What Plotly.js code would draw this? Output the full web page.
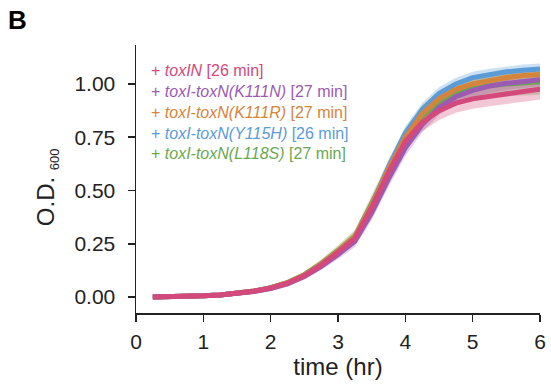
<!DOCTYPE html>
<html><head><meta charset="utf-8">
<script src="https://cdn.plot.ly/plotly-3.0.1.min.js"></script>
<style>body{margin:0;background:#fff}#c{width:551px;height:389px}</style>
</head><body><div id="c"></div>
<script>
const time = [0.25,0.5,0.75,1.0,1.25,1.5,1.75,2.0,2.25,2.5,2.75,3.0,3.25,3.5,3.75,4.0,4.25,4.5,4.75,5.0,5.25,5.5,5.75,6.0];
const names = ['+ <i>toxIN</i> [26 min]','+ <i>toxI-toxN(K111N)</i> [27 min]','+ <i>toxI-toxN(K111R)</i> [27 min]','+ <i>toxI-toxN(Y115H)</i> [26 min]','+ <i>toxI-toxN(L118S)</i> [27 min]'];
const colors = ['#d3497c','#9b5bb3','#d5843c','#5b9bd6','#6aa84f'];
const odToxIN = [0.000,0.001,0.003,0.006,0.010,0.017,0.027,0.042,0.065,0.100,0.150,0.210,0.275,0.420,0.585,0.730,0.820,0.875,0.910,0.930,0.943,0.955,0.965,0.975];
const odK111N = [0.000,0.001,0.003,0.006,0.010,0.016,0.026,0.040,0.062,0.096,0.144,0.200,0.262,0.395,0.555,0.700,0.810,0.890,0.940,0.970,0.990,1.003,1.013,1.020];
const odK111R = [0.000,0.001,0.003,0.006,0.010,0.017,0.028,0.043,0.067,0.103,0.155,0.215,0.282,0.432,0.600,0.750,0.860,0.930,0.975,1.000,1.018,1.030,1.040,1.045];
const odY115H = [0.000,0.001,0.003,0.006,0.010,0.017,0.027,0.043,0.066,0.102,0.152,0.212,0.278,0.430,0.610,0.770,0.880,0.955,1.000,1.030,1.045,1.057,1.065,1.070];
const odL118S = [0.000,0.001,0.003,0.006,0.010,0.017,0.028,0.044,0.068,0.105,0.157,0.218,0.285,0.440,0.600,0.740,0.850,0.915,0.955,0.978,0.992,1.000,1.006,1.010];
const sdToxIN = [0.004,0.004,0.004,0.004,0.005,0.005,0.006,0.008,0.010,0.013,0.017,0.022,0.027,0.033,0.037,0.040,0.042,0.044,0.045,0.046,0.047,0.047,0.048,0.048];
const sdK111N = [0.004,0.004,0.004,0.004,0.005,0.005,0.006,0.008,0.010,0.013,0.017,0.022,0.027,0.033,0.037,0.038,0.037,0.036,0.035,0.034,0.033,0.032,0.032,0.032];
const sdK111R = [0.004,0.004,0.004,0.004,0.005,0.005,0.006,0.008,0.010,0.013,0.017,0.022,0.027,0.033,0.037,0.038,0.037,0.036,0.035,0.034,0.033,0.032,0.032,0.032];
const sdY115H = [0.004,0.004,0.004,0.004,0.005,0.005,0.006,0.007,0.009,0.012,0.015,0.019,0.023,0.028,0.031,0.032,0.031,0.030,0.029,0.028,0.027,0.026,0.026,0.026];
const sdL118S = [0.005,0.005,0.005,0.005,0.006,0.006,0.007,0.009,0.012,0.015,0.020,0.025,0.030,0.037,0.043,0.047,0.050,0.052,0.054,0.056,0.057,0.058,0.059,0.060];
const means = [odToxIN,odK111N,odK111R,odY115H,odL118S];
const sds = [sdToxIN,sdK111N,sdK111R,sdY115H,sdL118S];

function rgba(hex,a){const n=parseInt(hex.slice(1),16);return `rgba(${n>>16},${(n>>8)&255},${n&255},${a})`;}
const traces=[];
const order=[4,3,2,1,0];
order.forEach(i=>{
  const up=means[i].map((v,k)=>v+sds[i][k]);
  const lo=means[i].map((v,k)=>v-sds[i][k]);
  traces.push({x:time.concat(time.slice().reverse()),y:up.concat(lo.slice().reverse()),fill:'toself',fillcolor:rgba(colors[i],0.3),line:{width:0},mode:'lines',hoverinfo:'skip',showlegend:false});
});
order.forEach(i=>{
  traces.push({x:time,y:means[i],mode:'lines',line:{color:colors[i],width:5},showlegend:false});
});
const font='Liberation Sans, Arial, sans-serif';
const ann=[];
names.forEach((n,i)=>{
  ann.push({xref:'paper',yref:'paper',x:0.033,y:0.903-i*0.0772,xanchor:'left',yanchor:'middle',text:n,showarrow:false,font:{family:font,size:16,color:colors[i]}});
});
ann.push({xref:'paper',yref:'paper',x:-0.323,y:1.095,xanchor:'left',yanchor:'middle',text:'<b>B</b>',showarrow:false,font:{family:font,size:26,color:'#000'}});
ann.push({xref:'paper',yref:'paper',x:-0.22,y:0.47,xanchor:'center',yanchor:'middle',textangle:-90,text:'O.D.\u00a0<sub><span style="font-size:13px">600</span></sub>',showarrow:false,font:{family:font,size:24,color:'#222'}});
const layout={
  width:551,height:389,margin:{l:136,r:11,t:45,b:76},
  paper_bgcolor:'#fff',plot_bgcolor:'#fff',
  font:{family:font,color:'#222'},
  xaxis:{range:[0,6],tickvals:[0,1,2,3,4,5,6],ticktext:['0','1','2','3','4','5','6'],showgrid:false,zeroline:false,showline:true,linecolor:'#222',linewidth:1.5,ticks:'outside',ticklen:7,tickwidth:1.5,tickcolor:'#222',ticklabelstandoff:2,tickfont:{size:21,family:font,color:'#222'},title:{text:'time (hr)',font:{size:24,family:font,color:'#222'},standoff:6}},
  yaxis:{range:[-0.075,1.183],tickvals:[0,0.25,0.5,0.75,1.0],ticktext:['0.00','0.25','0.50','0.75','1.00'],showgrid:false,zeroline:false,showline:true,linecolor:'#222',linewidth:1.5,ticks:'outside',ticklen:7,tickwidth:1.5,tickcolor:'#222',ticklabelstandoff:8,tickfont:{size:21,family:font,color:'#222'}},
  annotations:ann,showlegend:false
};
Plotly.newPlot('c',traces,layout,{displayModeBar:false,staticPlot:true});
</script></body></html>
